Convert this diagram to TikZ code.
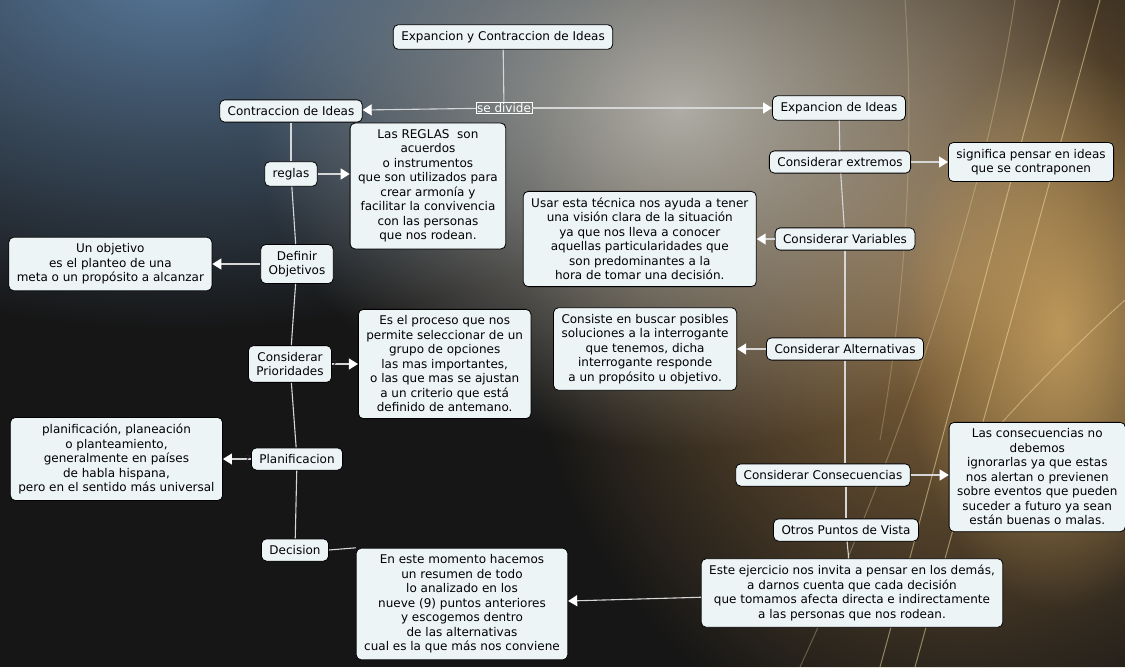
\documentclass[tikz,border=0pt]{standalone}
\usepackage{fontspec}
\setmainfont{DejaVu Sans}
\usetikzlibrary{arrows.meta, positioning, calc, fadings}
\definecolor{boxfill}{HTML}{EDF4F6}
\definecolor{linkgray}{HTML}{D6D6D6}
\definecolor{bgdark}{HTML}{161616}
\definecolor{steel}{HTML}{58789A}
\definecolor{haze}{HTML}{AEACA4}
\definecolor{amber}{HTML}{8E6B3E}
\definecolor{paleamber}{HTML}{CFA864}
\definecolor{streak}{HTML}{F6E2A4}
\tikzfading[name=softglow, inner color=transparent!0, outer color=transparent!100]

\begin{document}
\begin{tikzpicture}[
    x=1pt, y=-1pt,
    concept/.style={draw=black, line width=0.8pt, fill=boxfill, rounded corners=5pt, align=center,
                    font=\fontsize{12}{14.5}\selectfont, inner xsep=8pt, inner ysep=6.5pt},
    phrase/.style={draw=white, line width=0.6pt, text=white, inner sep=1pt,
                   font=\fontsize{12}{13}\selectfont},
    link/.style={draw=linkgray, line width=1.1pt},
    arrow/.style={link, -{Triangle[width=11pt, length=9pt, color=white]}},
    qmark/.style={text=black!85, font=\fontsize{11}{12}\selectfont, inner sep=0pt},
    streakline/.style={draw=streak, line width=1pt, opacity=0.5},
]
    % Background
    \useasboundingbox (0,0) rectangle (1125,667);
    \fill[bgdark] (0,0) rectangle (1125,667);
    \fill[steel, path fading=softglow] (180,-30) ellipse (620 and 360);
    \fill[amber, path fading=softglow] (960,270) ellipse (440 and 500);
    \fill[haze, path fading=softglow] (680,110) ellipse (430 and 340);
    \fill[paleamber, path fading=softglow, opacity=0.8] (1060,330) ellipse (160 and 280);
    \draw[streakline] (880,667) .. controls (940,450) and (1005,200) .. (1060,0);
    \draw[streakline] (915,667) .. controls (975,450) and (1045,200) .. (1100,0);
    \draw[streakline, opacity=0.3] (800,667) .. controls (900,450) and (985,200) .. (1015,0);
    \draw[streakline, opacity=0.45] (960,470) .. controls (1020,400) and (1070,350) .. (1125,300);
    \draw[streakline, opacity=0.25] (905,0) .. controls (915,150) and (905,300) .. (880,440);

    % Root and split
    \node[concept] (root) at (503,37) {Expancion y Contraccion de Ideas};
    \node[phrase] (divide) at (504,108) {se divide};
    \node[concept] (contr) at (291,111) {Contraccion de Ideas};
    \node[concept] (expan) at (839,108) {Expancion de Ideas};

    % Contraction branch
    \node[concept] (reglas) at (291,174) {reglas};
    \node[concept] (defin) at (297,264) {Definir\\Objetivos};
    \node[concept] (prior) at (290,364) {Considerar\\Prioridades};
    \node[concept] (plan) at (297,459) {Planificacion};
    \node[concept] (decis) at (295,550) {Decision};

    \node[concept, right=32pt of reglas, yshift=-12pt] (reglasd)
        {Las REGLAS \ son\\acuerdos\\o instrumentos\\que son utilizados para\\crear armonía y\\facilitar la convivencia\\con las personas\\que nos rodean.};
    \node[concept, left=48pt of defin] (definirobj)
        {Un objetivo\\es el planteo de una\\meta o un propósito a alcanzar};
    \node[concept, right=26pt of prior] (priord)
        {Es el proceso que nos\\permite seleccionar de un\\grupo de opciones\\las mas importantes,\\o las que mas se ajustan\\a un criterio que está\\definido de antemano.};
    \node[concept, left=28pt of plan] (pland)
        {planificación, planeación\\o planteamiento,\\generalmente en países\\de habla hispana,\\pero en el sentido más universal};
    \node[concept] (resumen) at (462,604)
        {En este momento hacemos\\un resumen de todo\\lo analizado en los\\nueve (9) puntos anteriores\\y escogemos dentro\\de las alternativas\\cual es la que más nos conviene};

    % Expansion branch
    \node[concept] (extre) at (840,162) {Considerar extremos};
    \node[concept] (varia) at (845,239) {Considerar Variables};
    \node[concept] (alter) at (845,349) {Considerar Alternativas};
    \node[concept] (conse) at (823,475) {Considerar Consecuencias};
    \node[concept] (otros) at (846,530) {Otros Puntos de Vista};

    \node[concept, right=37pt of extre] (extred)
        {significa pensar en ideas\\que se contraponen};
    \node[concept, left=18pt of varia] (variad)
        {Usar esta técnica nos ayuda a tener\\una visión clara de la situación\\ya que nos lleva a conocer\\aquellas particularidades que\\son predominantes a la\\hora de tomar una decisión.};
    \node[concept, left=29pt of alter] (alterd)
        {Consiste en buscar posibles\\soluciones a la interrogante\\que tenemos, dicha\\interrogante responde\\a un propósito u objetivo.};
    \node[concept, right=38pt of conse, yshift=-2pt] (consed)
        {Las consecuencias no\\debemos\\ignorarlas ya que estas\\nos alertan o previenen\\sobre eventos que pueden\\suceder a futuro ya sean\\están buenas o malas.};
    \node[concept] (ejerc) at (852,593)
        {Este ejercicio nos invita a pensar en los demás,\\a darnos cuenta que cada decisión\\que tomamos afecta directa e indirectamente\\a las personas que nos rodean.};

    % Connectors
    \draw[link] (root) -- (divide);
    \draw[arrow] (divide) -- (contr);
    \draw[arrow] (divide) -- (expan);

    \draw[link] (contr) -- (reglas);
    \draw[link] (reglas) -- (defin);
    \draw[link] (defin) -- (prior);
    \draw[link] (prior) -- (plan);
    \draw[link] (plan) -- (decis);
    \draw[arrow] (reglas.east) -- (reglas.east -| reglasd.west);
    \draw[arrow] (defin) -- (definirobj);
    \draw[arrow] (prior) -- node[qmark, pos=0.1] {?} (priord);
    \draw[arrow] (plan) -- node[qmark, pos=0.12] {?} (pland);
    \draw[link] (decis.east) -- (resumen.north west);

    \draw[link] (expan) -- (extre);
    \draw[link] (extre) -- (varia);
    \draw[link] (varia) -- (alter);
    \draw[link] (alter) -- (alter |- conse.north);
    \draw[link] (otros |- conse.south) -- (otros);
    \draw[link] (otros) -- (ejerc);
    \draw[arrow] (extre) -- (extred);
    \draw[arrow] (varia) -- (variad);
    \draw[arrow] (alter) -- (alterd);
    \draw[arrow] (conse.east) -- (conse.east -| consed.west);
    \draw[arrow] (ejerc) -- (resumen);
\end{tikzpicture}
\end{document}
